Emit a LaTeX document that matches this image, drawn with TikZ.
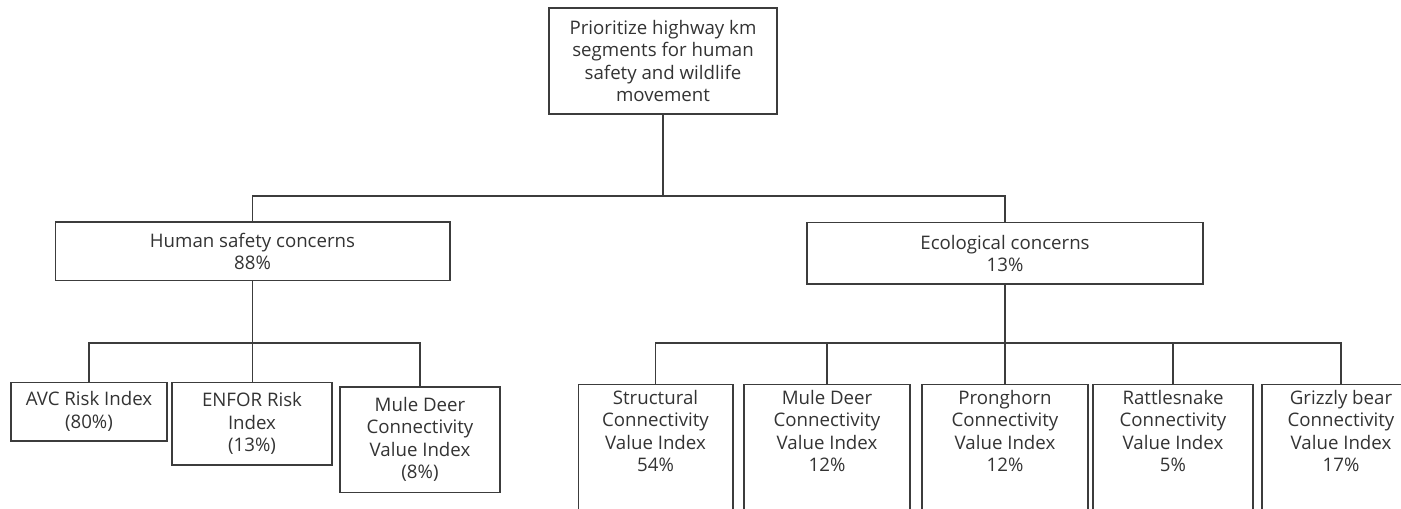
\documentclass[tikz,border=0pt]{standalone}
\usepackage{fontspec}
\setmainfont{Open Sans}
\definecolor{linegray}{HTML}{3C3C3C}
\definecolor{textgray}{HTML}{333333}
\tikzset{
  box/.style={draw=linegray, line width=1pt, text=textgray, align=center,
    font=\fontsize{14}{16.9}\selectfont, inner sep=1pt},
  leaf/.style={box, anchor=north, inner ysep=4pt, text depth=60pt},
  link/.style={draw=linegray, line width=1pt},
}
\begin{document}
\begin{tikzpicture}[x=0.75pt,y=-0.75pt]
  \useasboundingbox (0,0) rectangle (1401,509);
  \clip (0,0) rectangle (1401,509);
  % goal and the two concerns
  \node[box, minimum width=171pt, minimum height=79.5pt] (goal) at (663,61)
    {Prioritize highway km\\segments for human\\safety and wildlife\\movement};
  \node[box, minimum width=296pt, minimum height=44pt] (human) at (252.5,251.5)
    {Human safety concerns\\88\%};
  \node[box, minimum width=297pt, minimum height=46pt] (eco) at (1005,253.5)
    {Ecological concerns\\13\%};
  % human safety indices
  \node[box, minimum width=117pt, minimum height=44pt] (avc) at (89,411.5)
    {AVC Risk Index\\(80\%)};
  \node[box, minimum width=120pt, minimum height=62pt] (enfor) at (252,423.5)
    {ENFOR Risk\\Index\\(13\%)};
  \node[box, minimum width=120pt, minimum height=79pt] (deerA) at (420,439.5)
    {Mule Deer\\Connectivity\\Value Index\\(8\%)};
  % ecological indices
  \node[leaf, minimum width=116pt] (struct) at (655.5,384)
    {Structural\\Connectivity\\Value Index\\54\%};
  \node[leaf, minimum width=124.5pt] (deerB) at (827,384)
    {Mule Deer\\Connectivity\\Value Index\\12\%};
  \node[leaf, minimum width=124.5pt] (prong) at (1005,384)
    {Pronghorn\\Connectivity\\Value Index\\12\%};
  \node[leaf, minimum width=120pt] (rattle) at (1173,384)
    {Rattlesnake\\Connectivity\\Value Index\\5\%};
  \node[leaf, minimum width=118.5pt] (grizzly) at (1341,384)
    {Grizzly bear\\Connectivity\\Value Index\\17\%};
  % bus lines
  \coordinate (busT) at (663,196);
  \coordinate (busL) at (252.5,343);
  \coordinate (busR) at (1005,343);
  \draw[link] (goal.south) -- (busT);
  \draw[link] (human.north) |- (busT) -| (eco.north);
  \draw[link] (human.south) -- (busL);
  \draw[link] (avc.north) |- (busL) -| (deerA.north);
  \draw[link] (busL) -- (busL |- enfor.north);
  \draw[link] (eco.south) -- (busR) -- (prong.north);
  \draw[link] (struct.north) |- (busR) -| (grizzly.north);
  \draw[link] (deerB.north) -- (deerB.north |- busR);
  \draw[link] (rattle.north) -- (rattle.north |- busR);
\end{tikzpicture}
\end{document}
